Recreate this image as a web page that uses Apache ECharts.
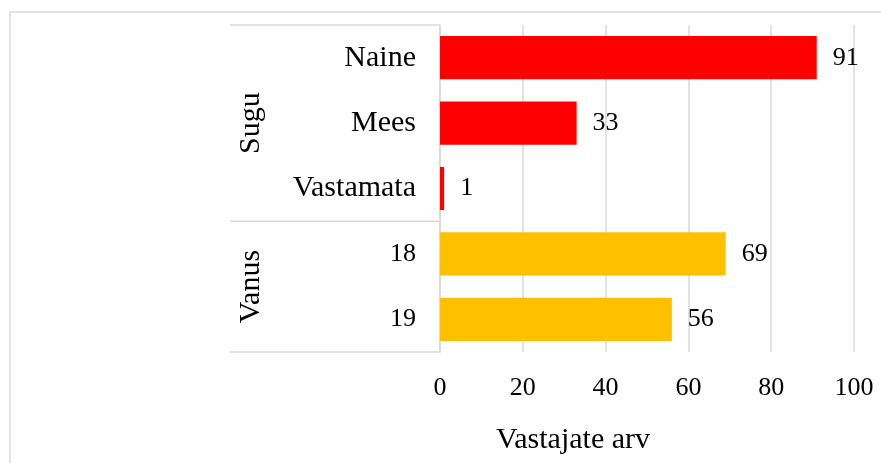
<!DOCTYPE html>
<html>
<head>
<meta charset="utf-8">
<script src="https://cdn.jsdelivr.net/npm/echarts@6/dist/echarts.min.js"></script>
<style>
html,body{margin:0;padding:0;background:#fff;}
#chart{width:881px;height:463px;}
</style>
</head>
<body>
<div id="chart"></div>
<script>
// Data
const categories = ['Naine', 'Mees', 'Vastamata', '18', '19'];
const values = [91, 33, 1, 69, 56];
const groupNames = ['Sugu', 'Vanus'];
const groupSizes = [3, 2];
const groupColors = ['#FF0000', '#FFC000'];
const xTicks = [0, 20, 40, 60, 80, 100];
const axisTitle = 'Vastajate arv';

const FONT = '"Liberation Serif", "Times New Roman", serif';
const TXT = 30, NUM = 26;
const GRID = { left: 440, right: 27, top: 25, bottom: 111 };
const W = 881, H = 463;
const LINE = '#d9d9d9';

const chart = echarts.init(document.getElementById('chart'));

const barColors = [];
groupSizes.forEach((n, gi) => { for (let i = 0; i < n; i++) barColors.push(groupColors[gi]); });

const plotTop = GRID.top, plotBottom = H - GRID.bottom;
const band = (plotBottom - plotTop) / categories.length;
const labelLeft = 230;

const graphics = [];
graphics.push({ type: 'rect', shape: { x: 10, y: 12, width: 900, height: 500 }, style: { fill: 'none', stroke: LINE, lineWidth: 1.5 }, silent: true });
let start = 0;
const boundaries = [0];
groupSizes.forEach((n, gi) => {
  const y0 = plotTop + start * band;
  const y1 = plotTop + (start + n) * band;
  graphics.push({
    type: 'text', x: labelLeft + 21, y: (y0 + y1) / 2, rotation: Math.PI / 2,
    style: { text: groupNames[gi], font: TXT + 'px ' + FONT, fill: '#000', align: 'center', verticalAlign: 'middle' }
  });
  start += n;
  boundaries.push(start);
});
boundaries.forEach(b => {
  const y = plotTop + b * band;
  graphics.push({ type: 'line', shape: { x1: labelLeft, y1: y, x2: GRID.left, y2: y }, style: { stroke: LINE, lineWidth: 1.5 }, silent: true });
});
graphics.push({ type: 'text', x: 573, y: 440, style: { text: axisTitle, font: TXT + 'px ' + FONT, fill: '#000', align: 'center', verticalAlign: 'middle' } });

chart.setOption({
  animation: false,
  backgroundColor: '#fff',
  grid: { left: GRID.left, right: GRID.right, top: GRID.top, bottom: GRID.bottom, containLabel: false },
  xAxis: {
    type: 'value', min: xTicks[0], max: xTicks[xTicks.length - 1], interval: xTicks[1] - xTicks[0],
    axisLine: { show: false }, axisTick: { show: false },
    splitLine: { show: true, lineStyle: { color: LINE, width: 1.5 } },
    axisLabel: { fontFamily: FONT, fontSize: NUM, color: '#000', margin: 23 }
  },
  yAxis: {
    type: 'category', data: categories, inverse: true,
    axisLine: { show: true, lineStyle: { color: LINE, width: 1.5 } },
    axisTick: { show: false },
    axisLabel: {
      margin: 24,
      formatter: v => /^\d+$/.test(v) ? '{n|' + v + '}' : '{t|' + v + '}',
      rich: {
        t: { fontFamily: FONT, fontSize: TXT, color: '#000' },
        n: { fontFamily: FONT, fontSize: NUM, color: '#000' }
      }
    }
  },
  series: [{
    type: 'bar',
    data: values.map((v, i) => ({ value: v, itemStyle: { color: barColors[i] } })),
    barCategoryGap: '34%',
    label: { show: true, position: 'right', distance: 16, fontFamily: FONT, fontSize: NUM, color: '#000' }
  }],
  graphic: graphics
});
</script>
</body>
</html>
